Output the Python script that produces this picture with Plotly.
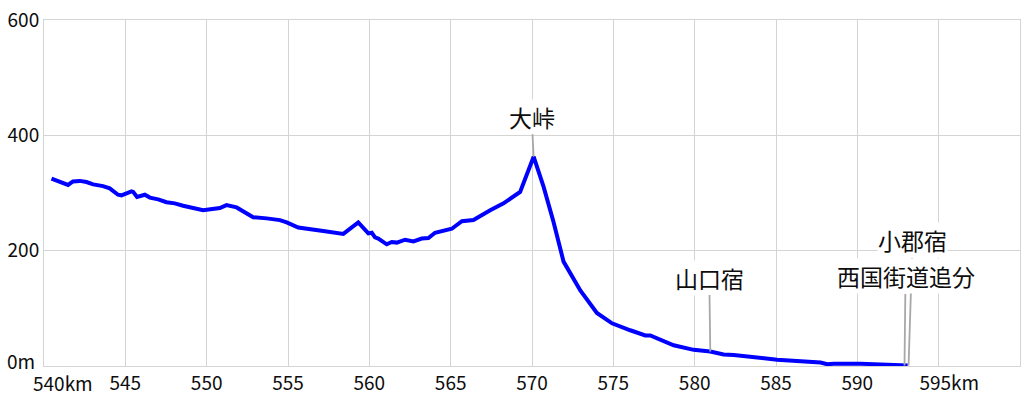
import plotly.graph_objects as go

# Elevation profile (km, m)
km = [540.46, 541.27, 541.48, 541.78, 542.2, 542.61, 543.02, 543.63, 544.04, 544.55,
      544.76, 545.38, 545.48, 545.72, 546.2, 546.51, 547.02, 547.53, 548.04, 548.55,
      549.17, 549.78, 550.81, 551.22, 551.84, 552.86, 553.69, 554.5, 554.92, 555.63,
      557.17, 558.4, 559.32, 559.94, 560.15, 560.35, 560.55, 561.07, 561.38, 561.69,
      562.2, 562.71, 563.22, 563.63, 564.04, 564.55, 565.07, 565.69, 566.4, 567.43,
      568.25, 569.27, 570.1, 570.71, 571.32, 571.94, 572.97, 573.99, 574.92, 576.04,
      576.96, 577.27, 578.09, 578.71, 579.94, 580.96, 581.78, 582.4, 585.07, 587.74,
      588.15, 588.55, 590.2, 591.12, 593.1]
elev = [325, 315, 314, 320, 321, 319, 315, 312, 308, 297,
        296, 303, 302, 293, 297, 292, 289, 284, 282, 278,
        274, 270, 274, 279, 275, 258, 256, 253, 249, 240,
        234, 229, 249, 230, 231, 223, 221, 211, 215, 214,
        219, 216, 221, 222, 231, 235, 238, 251, 253, 270,
        282, 302, 363, 311, 250, 181, 131, 92, 74, 62,
        53, 53, 43, 36, 28, 25, 20, 19, 11, 6,
        3, 4, 4, 3, 1]

# Landmarks
place_names = ["大峠", "山口宿", "小郡宿", "西国街道追分"]
place_km = [570.1, 580.96, 593.15, 592.9]
place_elev = [363, 25, 1, 1]
label_dx = [-2, -1, 4, 1]
label_dy = [-40, -74, -125, -89]

# Axis ticks
x_tickvals = [540, 545, 550, 555, 560, 565, 570, 575, 580, 585, 590, 595, 600]
x_ticktext = ["540km", "545", "550", "555", "560", "565",
              "570", "575", "580", "585", "590", "\u00a0" * 5 + "595km", ""]
y_tickvals = [0, 200, 400, 600]
y_ticktext = ["0m", "200", "400", "600"]

FONT = "Noto Sans CJK JP"
GRID = "#d4d4d4"
TXT = "#0d0d0d"

fig = go.Figure()
fig.add_trace(go.Scatter(x=km, y=elev, mode="lines",
                         line=dict(color="#0000ff", width=4),
                         hoverinfo="skip", showlegend=False))

for name, x, y, dx, dy in zip(place_names, place_km, place_elev, label_dx, label_dy):
    fig.add_annotation(x=x, y=y, xref="x", yref="y", text=name,
                       showarrow=True, arrowhead=0, arrowwidth=1.8, arrowcolor="#a8a8a8",
                       ax=dx, ay=dy, bgcolor="white", borderpad=0,
                       font=dict(family=FONT, size=23, color=TXT))

# edge labels placed like the reference (first x label starts just left of its gridline,
# bottom y label sits slightly above its gridline)
fig.add_annotation(x=x_tickvals[0], y=0, xref="x", yref="paper", text=x_ticktext[0],
                   showarrow=False, xanchor="left", yanchor="middle",
                   xshift=-13, yshift=-16, font=dict(family=FONT, size=19, color=TXT))
fig.add_annotation(x=0, y=y_tickvals[0], xref="paper", yref="y", text=y_ticktext[0],
                   showarrow=False, xanchor="right", yanchor="middle",
                   xshift=-7, yshift=6, font=dict(family=FONT, size=19, color=TXT))
x_ticktext_axis = [""] + x_ticktext[1:]
y_ticktext_axis = [""] + y_ticktext[1:]

fig.update_layout(
    width=1024, height=400,
    margin=dict(l=44, r=4, t=20, b=34, autoexpand=False),
    paper_bgcolor="white", plot_bgcolor="white",
    font=dict(family=FONT, size=19, color=TXT),
    xaxis=dict(range=[540, 600], tickmode="array", tickvals=x_tickvals, ticktext=x_ticktext_axis,
               showgrid=True, gridcolor=GRID, gridwidth=1, zeroline=False,
               showline=True, linecolor=GRID, linewidth=1, mirror=True, automargin=False,
               ticks="", ticklabeloverflow="allow",
               tickfont=dict(family=FONT, size=19, color=TXT)),
    yaxis=dict(range=[0, 600], tickmode="array", tickvals=y_tickvals, ticktext=y_ticktext_axis,
               showgrid=True, gridcolor=GRID, gridwidth=1, zeroline=False,
               showline=True, linecolor=GRID, linewidth=1, mirror=True, automargin=False,
               ticks="", tickfont=dict(family=FONT, size=19, color=TXT)),
)

fig.write_html("out.html", config={"displayModeBar": False},
               post_script="document.body.style.margin='0';document.body.style.overflow='hidden';")
